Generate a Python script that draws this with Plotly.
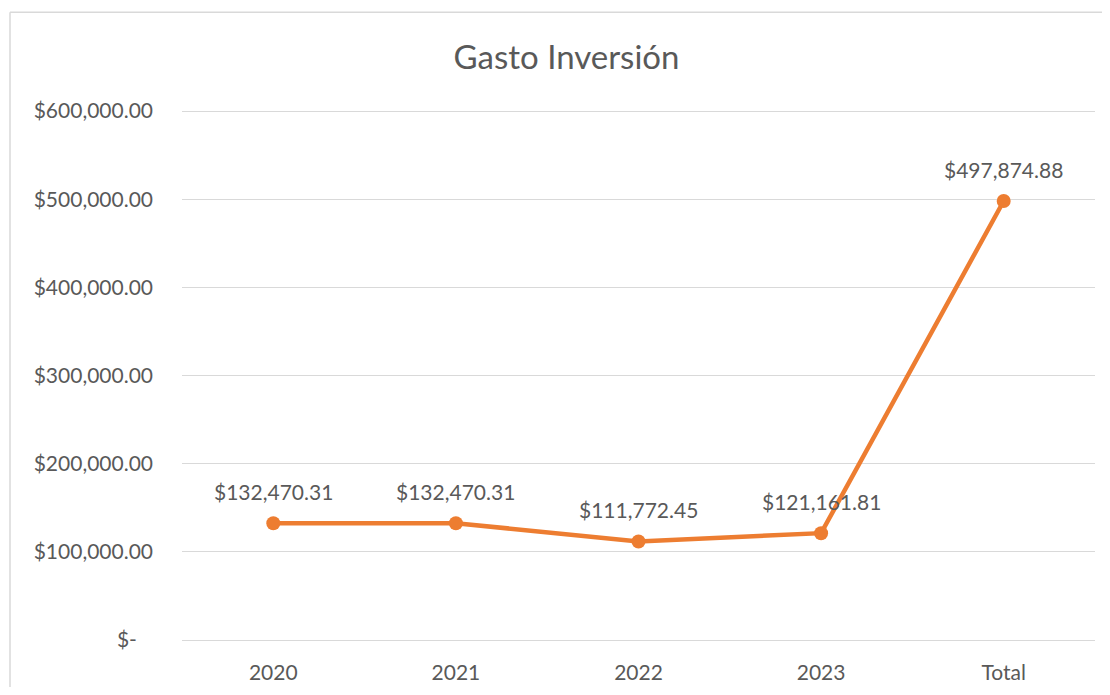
import plotly.graph_objects as go

categories = ["2020", "2021", "2022", "2023", "Total"]
values = [132470.31, 132470.31, 111772.45, 121161.81, 497874.88]
labels = ["$132,470.31", "$132,470.31", "$111,772.45", "$121,161.81", "$497,874.88"]
y_tickvals = [0, 100000, 200000, 300000, 400000, 500000, 600000]
y_ticktext = ["$-\u00a0\u00a0\u00a0", "$100,000.00", "$200,000.00", "$300,000.00",
              "$400,000.00", "$500,000.00", "$600,000.00"]

FONT = "Lato"
GRAY = "#595959"
ORANGE = "#ED7D31"

# page body has an 8px margin; figure is sized/offset to compensate
W, H = 1102, 679
OFF = 8
PAD = 2  # px of extra room so edge gridlines are drawn
plot_l, plot_r = 182 - OFF, 1095 - OFF
plot_t, plot_b = 110.7 - OFF - PAD, 640 - OFF + PAD

fig = go.Figure()
fig.add_trace(go.Scatter(
    x=categories, y=values, mode="lines+markers",
    line=dict(color=ORANGE, width=4.5),
    marker=dict(color=ORANGE, size=14),
    hoverinfo="skip", showlegend=False, cliponaxis=False,
))

for i, (v, t) in enumerate(zip(values, labels)):
    fig.add_annotation(x=i, y=v, xref="x", yref="y", text=t, showarrow=False,
                       yshift=32, font=dict(family=FONT, size=21, color=GRAY))

pw = plot_r - plot_l
ph = plot_b - plot_t
bx = (10 - OFF - plot_l) / pw
by = (plot_b - (12 - OFF)) / ph
border = dict(color="#D9D9D9", width=1.5)
fig.add_shape(type="line", xref="paper", yref="paper", x0=bx, x1=1.2, y0=by, y1=by,
              line=border, layer="below")
fig.add_shape(type="line", xref="paper", yref="paper", x0=bx, x1=bx, y0=by, y1=-0.3,
              line=border, layer="below")

pad_val = 600000 * PAD / (ph - 2 * PAD)

fig.update_layout(
    width=W, height=H,
    margin=dict(l=plot_l, r=W - plot_r, t=plot_t, b=H - plot_b, autoexpand=False),
    paper_bgcolor="white", plot_bgcolor="white",
    title=dict(text="Gasto Inversión", x=(566.5 - OFF) / W, xanchor="center",
               y=1 - (57 - OFF) / H, yanchor="middle",
               font=dict(family=FONT, size=33, color=GRAY)),
    font=dict(family=FONT, size=21, color=GRAY),
    xaxis=dict(type="category", range=[-0.5, 4.5], showgrid=False,
               showline=False, zeroline=False, ticks="",
               ticklabelstandoff=16,
               tickfont=dict(family=FONT, size=21, color=GRAY)),
    yaxis=dict(range=[-pad_val, 600000 + pad_val], tickvals=y_tickvals,
               ticktext=y_ticktext,
               showgrid=True, gridcolor="#D9D9D9", gridwidth=1.3,
               zeroline=False, showline=False, ticks="",
               ticklabelstandoff=28,
               tickfont=dict(family=FONT, size=21, color=GRAY)),
)

fig.write_html("out.html")
